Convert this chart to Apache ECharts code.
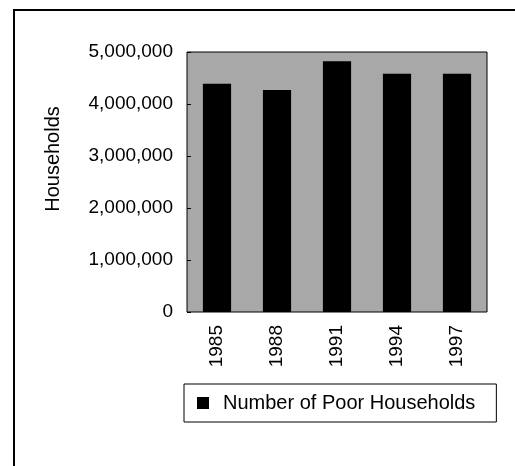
<!DOCTYPE html>
<html>
<head>
<meta charset="utf-8">
<script src="https://cdn.jsdelivr.net/npm/echarts@6/dist/echarts.min.js"></script>
<style>
  html, body { margin: 0; padding: 0; background: #fff; }
  #frame {
    position: absolute; left: 13px; top: 9px; width: 520px; height: 470px;
    border-left: 2px solid #000; border-top: 2px solid #000;
  }
  #chart { position: absolute; left: 0; top: 0; width: 515px; height: 466px; }
</style>
</head>
<body>
<div id="frame"></div>
<div id="chart"></div>
<script>
// data
var years = ["1985", "1988", "1991", "1994", "1997"];
var poorHouseholds = [4390000, 4270000, 4820000, 4580000, 4580000];
var yTicks = [0, 1000000, 2000000, 3000000, 4000000, 5000000];

var myChart = echarts.init(document.getElementById("chart"));

var option = {
  animation: false,
  textStyle: { fontFamily: "Liberation Sans, Arial, sans-serif", color: "#000" },
  grid: {
    left: 187, right: 28, top: 52, bottom: 154,
    show: true,
    backgroundColor: "#a8a8a8",
    borderColor: "#000",
    borderWidth: 1
  },
  legend: {
    left: 184, top: 384,
    orient: "horizontal",
    borderColor: "#000",
    borderWidth: 1,
    padding: [9, 21, 9, 13],
    itemWidth: 12, itemHeight: 12,
    icon: "rect",
    textStyle: { fontSize: 20, color: "#000", padding: [0, 0, 0, 9] },
    data: ["Number of Poor Households"]
  },
  xAxis: {
    type: "category",
    data: years,
    axisLine: { show: false },
    axisTick: { show: false },
    axisLabel: { rotate: 90, fontSize: 19, color: "#000", margin: 13 }
  },
  yAxis: {
    type: "value",
    min: yTicks[0],
    max: yTicks[yTicks.length - 1],
    interval: 1000000,
    name: "Households",
    nameLocation: "middle",
    nameGap: 124,
    nameRotate: 90,
    nameTextStyle: { fontSize: 20, color: "#000", padding: [0, 0, 0, 46] },
    axisLine: { show: false },
    axisTick: { show: true, inside: true, length: 4, lineStyle: { color: "#000" } },
    splitLine: { show: false },
    axisLabel: {
      fontSize: 19, color: "#000", margin: 14,
      formatter: function (v) { return v.toLocaleString("en-US"); }
    }
  },
  series: [{
    name: "Number of Poor Households",
    type: "bar",
    data: poorHouseholds,
    barWidth: "47%",
    itemStyle: { color: "#000" }
  }]
};

myChart.setOption(option);
</script>
</body>
</html>
